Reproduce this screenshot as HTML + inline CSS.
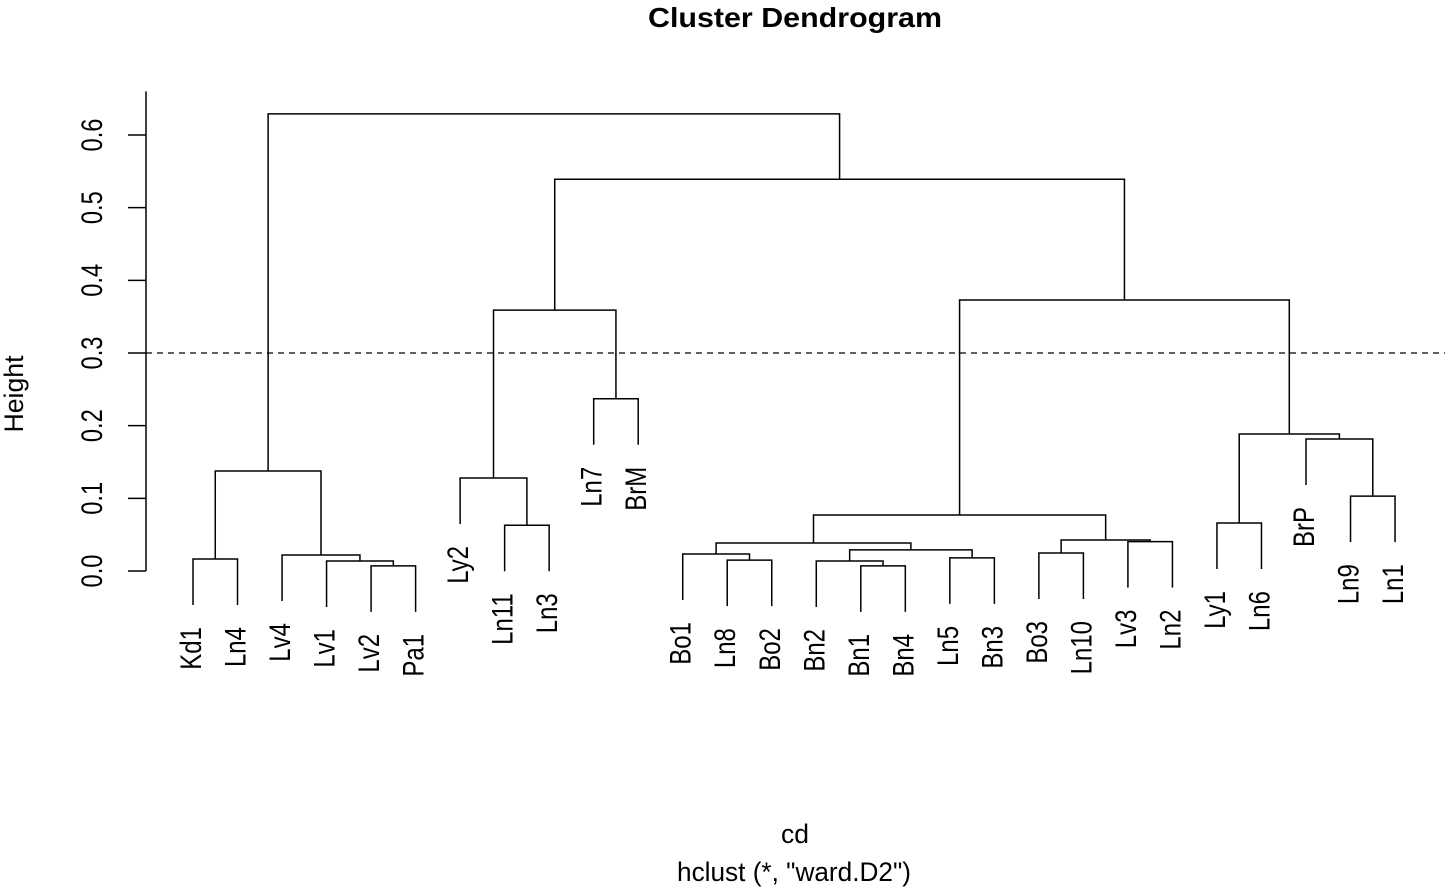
<!DOCTYPE html>
<html><head><meta charset="utf-8"><style>
body{margin:0;background:#fff;}
svg{display:block;font-family:"Liberation Sans",Arial,sans-serif;}
</style></head><body>
<svg id="chart" width="1445" height="890" viewBox="0 0 1445 890">
<text x="795" y="27" font-size="28" font-weight="bold" text-anchor="middle" textLength="294" lengthAdjust="spacingAndGlyphs">Cluster Dendrogram</text>
<text x="795" y="843" font-size="27" text-anchor="middle" textLength="28" lengthAdjust="spacingAndGlyphs">cd</text>
<text x="794" y="881" font-size="27" text-anchor="middle" textLength="234" lengthAdjust="spacingAndGlyphs">hclust (*, "ward.D2")</text>
<text transform="translate(23,394) rotate(-90)" font-size="27" text-anchor="middle" textLength="77" lengthAdjust="spacingAndGlyphs">Height</text>
<g id="axis"></g>
<g id="tree"></g>
<g id="labels"></g>
</svg>
<script>
const leaves=["Kd1","Ln4","Lv4","Lv1","Lv2","Pa1","Ly2","Ln11","Ln3","Ln7","BrM","Bo1","Ln8","Bo2","Bn2","Bn1","Bn4","Ln5","Bn3","Bo3","Ln10","Lv3","Ln2","Ly1","Ln6","BrP","Ln9","Ln1"];
// merges: [left, right, height]; negative = leaf index -(i+1), positive = merge number (1-based)
const merges=[
 [-1,-2,0.0165],
 [-5,-6,0.007],
 [-4,2,0.0138],
 [-3,3,0.022],
 [1,4,0.1376],
 [-8,-9,0.063],
 [-7,6,0.128],
 [-10,-11,0.237],
 [7,8,0.359],
 [-13,-14,0.015],
 [-12,10,0.0234],
 [-16,-17,0.007],
 [-15,12,0.0138],
 [-18,-19,0.018],
 [13,14,0.029],
 [11,15,0.0385],
 [-20,-21,0.0248],
 [-22,-23,0.0405],
 [17,18,0.0427],
 [16,19,0.077],
 [-24,-25,0.066],
 [-27,-28,0.103],
 [-26,22,0.1816],
 [21,23,0.1885],
 [20,24,0.373],
 [9,25,0.539],
 [5,26,0.629]
];
const yTicks=[0,0.1,0.2,0.3,0.4,0.5,0.6];
const tickLabels=["0.0","0.1","0.2","0.3","0.4","0.5","0.6"];
const cutHeight=[0.3];
const NS="http://www.w3.org/2000/svg";
function xPos(i){return 193+i*44.52;}
function yPos(h){return 571-h*726.7;}
const hangPx=46;
function mk(tag,attrs,parent){const e=document.createElementNS(NS,tag);for(const k in attrs)e.setAttribute(k,attrs[k]);parent.appendChild(e);return e;}
const ax=document.getElementById('axis'),tr=document.getElementById('tree'),lb=document.getElementById('labels');
const axl=mk('line',{x1:146,x2:146,y1:yPos(0),y2:yPos(0.66),stroke:'#000','stroke-width':1.5},ax);


yTicks.forEach((t,i)=>{
 const l=mk('line',{x1:128,x2:146,y1:yPos(t),y2:yPos(t),stroke:'#000','stroke-width':1.5},ax);
 
 
 const tx=mk('text',{transform:`translate(102,${yPos(t)}) rotate(-90) scale(0.79,1)`,'font-size':30,'text-anchor':'middle'},ax);
 tx.textContent=tickLabels[i];
 
 
});
const cut=mk('line',{x1:146,x2:1445,y1:yPos(cutHeight[0]),y2:yPos(cutHeight[0]),stroke:'#000','stroke-width':1.3,'stroke-dasharray':'6,5'},ax);


const pos=[];
function nodeInfo(id){
 if(id<0){const i=-id-1;return {x:xPos(i),h:null,leaf:i};}
 return pos[id-1];
}
merges.forEach((m,k)=>{
 const h=m[2],y=yPos(h);
 const pts=[m[0],m[1]].map(id=>{
  const n=nodeInfo(id);
  let yb;
  if(n.leaf!==undefined){yb=y+hangPx;
   const t=mk('text',{transform:`translate(${n.x+8},${yb+22}) rotate(-90) scale(0.8,1)`,'font-size':30,'text-anchor':'end'},lb);
   t.textContent=leaves[n.leaf];
   
   
  } else yb=yPos(n.h);
  return {x:n.x,yb};
 });
 const p=mk('path',{d:`M${pts[0].x},${pts[0].yb}V${y}H${pts[1].x}V${pts[1].yb}`,fill:'none',stroke:'#000','stroke-width':1.5},tr);
 
 
 pos.push({x:(pts[0].x+pts[1].x)/2,h});
});
</script>
</body></html>
